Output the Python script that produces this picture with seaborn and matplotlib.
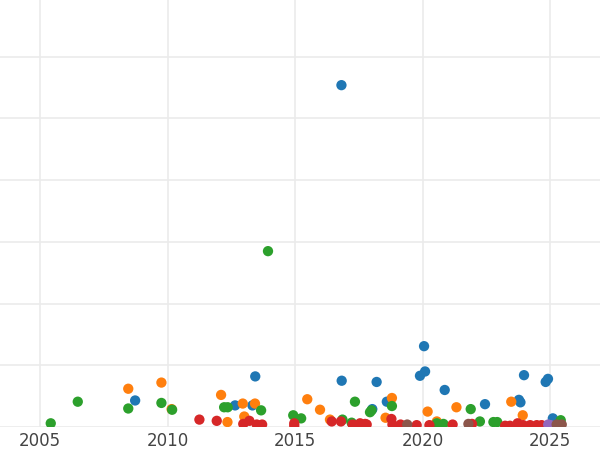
import numpy as np
import pandas as pd
import seaborn as sns
import matplotlib.pyplot as plt

# values (year, value); one pair of lists per group
blue_year = [2008.73, 2013.33, 2013.44, 2012.65, 2016.82, 2016.83, 2018.20, 2018.03,
             2018.60, 2020.06, 2019.90, 2020.10, 2020.87, 2022.45, 2023.78, 2023.84,
             2023.98, 2024.83, 2024.92, 2025.11]
blue_val = [0.43, 0.35, 0.82, 0.35, 5.54, 0.75, 0.73, 0.29,
            0.41, 1.31, 0.83, 0.90, 0.60, 0.37, 0.44, 0.40,
            0.84, 0.73, 0.78, 0.14]

orange_year = [2008.46, 2009.76, 2010.16, 2012.10, 2012.35, 2012.95, 2013.01, 2013.43,
               2015.48, 2015.98, 2016.37, 2018.55, 2018.80, 2020.20, 2020.56, 2021.33,
               2023.48, 2023.93]
orange_val = [0.62, 0.72, 0.29, 0.52, 0.08, 0.38, 0.17, 0.38,
              0.45, 0.28, 0.12, 0.15, 0.47, 0.25, 0.09, 0.32,
              0.41, 0.19]

green_year = [2005.42, 2006.48, 2008.46, 2009.76, 2010.18, 2012.22, 2012.36, 2013.67,
              2013.94, 2014.93, 2015.24, 2016.86, 2017.22, 2017.35, 2017.94, 2018.00,
              2018.80, 2020.56, 2020.82, 2021.89, 2022.25, 2022.78, 2022.93, 2025.42]
green_val = [0.06, 0.41, 0.30, 0.39, 0.28, 0.32, 0.32, 0.27,
             2.85, 0.19, 0.14, 0.12, 0.07, 0.41, 0.24, 0.27,
             0.34, 0.06, 0.05, 0.29, 0.09, 0.08, 0.08, 0.11]

red_year = [2011.25, 2011.93, 2012.97, 2013.21, 2013.50, 2013.71, 2014.97, 2014.97,
            2016.44, 2016.80, 2017.26, 2017.55, 2017.75, 2017.81, 2018.78, 2018.82,
            2019.14, 2019.77, 2020.27, 2021.18, 2021.94, 2023.24, 2023.43, 2023.73,
            2023.95, 2024.22, 2024.48, 2024.67]
red_val = [0.12, 0.10, 0.05, 0.10, 0.04, 0.04, 0.06, 0.02,
           0.09, 0.09, 0.04, 0.06, 0.05, 0.04, 0.13, 0.04,
           0.04, 0.03, 0.03, 0.04, 0.05, 0.02, 0.02, 0.06,
           0.03, 0.03, 0.03, 0.03]

purple_year = [2024.93, 2025.02]
purple_val = [0.04, 0.03]

brown_year = [2019.40, 2021.80, 2025.26, 2025.46]
brown_val = [0.04, 0.05, 0.04, 0.04]

groups = ['A', 'B', 'C', 'D', 'E', 'F']
years = [blue_year, orange_year, green_year, red_year, purple_year, brown_year]
vals = [blue_val, orange_val, green_val, red_val, purple_val, brown_val]

frames = []
for g, x, y in zip(groups, years, vals):
    frames.append(pd.DataFrame({'year': x, 'value': y, 'group': g}))
df = pd.concat(frames, ignore_index=True)

sns.set_style('whitegrid')
fig = plt.figure(figsize=(6, 4.5), dpi=100)
ax = fig.add_axes([0, 0.0511, 1, 0.9489])

sns.scatterplot(data=df, x='year', y='value', hue='group', hue_order=groups,
                palette='tab10', s=55, linewidth=0, legend=False, ax=ax)

ax.set_xlim(2003.43, 2026.96)
ax.set_ylim(0, 6.92)
ax.set_xticks([2005, 2010, 2015, 2020, 2025])
ax.set_yticks(range(0, 7))
ax.set_yticklabels([])
ax.tick_params(axis='both', length=0, labelsize=12, labelcolor='#444444', pad=3.5)
ax.grid(True, color='#ebebeb', linewidth=1.2)
ax.set_xlabel('')
ax.set_ylabel('')
for sp in ax.spines.values():
    sp.set_visible(False)

fig.savefig('out.png')
